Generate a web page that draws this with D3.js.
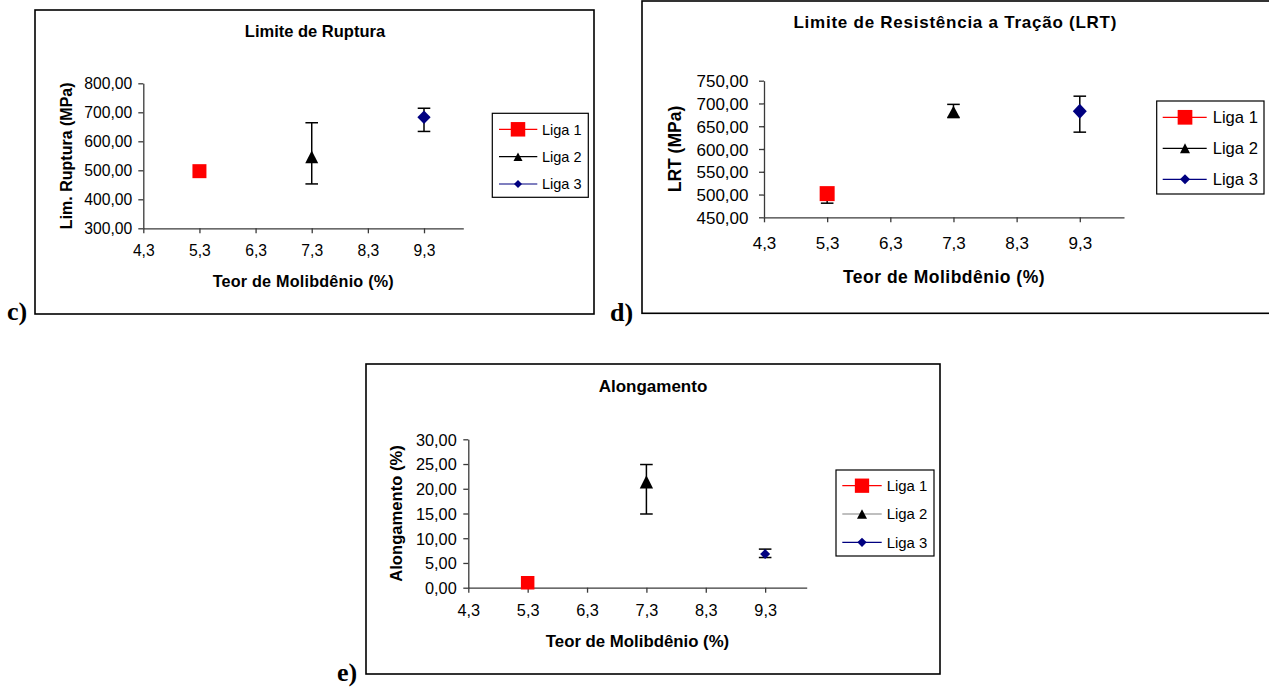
<!DOCTYPE html>
<html>
<head>
<meta charset="utf-8">
<script src="https://cdn.jsdelivr.net/npm/d3@7"></script>
<style>
  html, body { margin: 0; padding: 0; background: #fff; }
  svg { display: block; }
  text { font-family: "Liberation Sans", Arial, sans-serif; fill: #000; }
</style>
</head>
<body>
<svg id="fig" width="1269" height="688"></svg>
<script>
// ---------------- DATA ----------------
const ligaNames = ["Liga 1", "Liga 2", "Liga 3"];
const molibdenio = [5.3, 7.3, 9.3];            // Teor de Molibdênio (%)
const xTickValues = [4.3, 5.3, 6.3, 7.3, 8.3, 9.3];
const xDomain = [4.3, 10.0];

// c) Limite de Ruptura (MPa)
const rupturaValues = [497, 546, 683];
const rupturaLow    = [497, 453, 634];
const rupturaHigh   = [497, 664, 714];
const rupturaTicks  = [300, 400, 500, 600, 700, 800];

// d) Limite de Resistência a Tração (MPa)
const lrtValues = [502, 682, 683];
const lrtLow    = [481, 669, 637];
const lrtHigh   = [502, 698, 716];
const lrtTicks  = [450, 500, 550, 600, 650, 700, 750];

// e) Alongamento (%)
const alongValues = [1.0, 21.4, 6.8];
const alongLow    = [1.0, 14.9, 6.1];
const alongHigh   = [1.0, 24.9, 7.8];
const alongTicks  = [0, 5, 10, 15, 20, 25, 30];

// ---------------- STYLE ----------------
const seriesColors = ["#FF0000", "#000000", "#000080"];
const seriesSymbols = ["square", "triangle", "diamond"];

const ptBR = d3.formatLocale({decimal: ",", thousands: ".", grouping: [3], currency: ["R$", ""]});
const fmtX = ptBR.format(".1f");
const fmtY = ptBR.format(".2f");

function markerPath(type, w, h) {
  const a = w / 2, b = h / 2;
  if (type === "square") return `M${-a},${-b}H${a}V${b}H${-a}Z`;
  if (type === "triangle") return `M0,${-b}L${a},${b}L${-a},${b}Z`;
  return `M0,${-b}L${a},0L0,${b}L${-a},0Z`;
}

const svg = d3.select("#fig");
svg.append("rect").attr("width", 1269).attr("height", 688).attr("fill", "#fff");

function drawChart(cfg) {
  const g = svg.append("g");
  // outer frame
  g.append("rect")
    .attr("x", cfg.frame[0]).attr("y", cfg.frame[1])
    .attr("width", cfg.frame[2] - cfg.frame[0]).attr("height", cfg.frame[3] - cfg.frame[1])
    .attr("fill", "#fff").attr("stroke", "#000").attr("stroke-width", 1.6);

  // panel label
  g.append("text").attr("x", cfg.label.x).attr("y", cfg.label.y)
    .style("font-family", "'Liberation Serif', 'Times New Roman', serif")
    .attr("font-weight", "bold").attr("font-size", cfg.label.size).text(cfg.label.text);

  const p = cfg.plot;
  const x = d3.scaleLinear().domain(xDomain).range([p.x0, p.x1]);
  const y = d3.scaleLinear().domain(cfg.yDomain).range([p.y1, p.y0]);

  // title
  g.append("text").attr("x", cfg.title.x).attr("y", cfg.title.y)
    .attr("text-anchor", "middle").attr("font-weight", "bold")
    .attr("font-size", cfg.title.size).style("letter-spacing", (cfg.title.ls || 0) + "px")
    .text(cfg.title.text);

  // x axis
  const xa = g.append("g").attr("transform", `translate(0,${p.y1})`)
    .call(d3.axisBottom(x).tickValues(xTickValues).tickSize(5).tickSizeOuter(0).tickFormat(fmtX));
  xa.selectAll("text").attr("dy", null).attr("y", cfg.xLabelDy).attr("font-size", cfg.tickSize)
    .style("font-family", "'Liberation Sans', Arial, sans-serif");
  // y axis
  const ya = g.append("g").attr("transform", `translate(${p.x0},0)`)
    .call(d3.axisLeft(y).tickValues(cfg.yTicks).tickSize(5).tickSizeOuter(0).tickFormat(fmtY));
  ya.selectAll("text").attr("x", -cfg.yLabelGap).attr("dy", "0.36em").attr("font-size", cfg.tickSize)
    .style("font-family", "'Liberation Sans', Arial, sans-serif");
  g.selectAll(".domain, .tick line").attr("stroke", "#3a3a3a").attr("stroke-width", 1.3);

  // axis titles
  g.append("text").attr("x", (p.x0 + p.x1) / 2).attr("y", cfg.xTitle.y)
    .attr("text-anchor", "middle").attr("font-weight", "bold").attr("font-size", cfg.xTitle.size)
    .style("letter-spacing", (cfg.xTitle.ls || 0) + "px").text("Teor de Molibdênio (%)");
  g.append("text").attr("transform", `translate(${cfg.yTitle.x},${(p.y0 + p.y1) / 2}) rotate(-90)`)
    .attr("text-anchor", "middle").attr("font-weight", "bold").attr("font-size", cfg.yTitle.size)
    .text(cfg.yTitle.text);

  // error bars (behind markers)
  const cap = 6.3;
  const eb = g.append("g").attr("stroke", "#000").attr("stroke-width", 1.5);
  molibdenio.forEach((mx, i) => {
    const lo = cfg.low[i], hi = cfg.high[i], v = cfg.values[i];
    if (hi <= lo) return;
    const cx = x(mx);
    eb.append("line").attr("x1", cx).attr("x2", cx).attr("y1", y(lo)).attr("y2", y(hi));
    if (lo < v) eb.append("line").attr("x1", cx - cap).attr("x2", cx + cap).attr("y1", y(lo)).attr("y2", y(lo));
    if (hi > v) eb.append("line").attr("x1", cx - cap).attr("x2", cx + cap).attr("y1", y(hi)).attr("y2", y(hi));
  });

  // markers
  g.append("g").selectAll("path").data(cfg.values).join("path")
    .attr("transform", (d, i) => `translate(${x(molibdenio[i])},${y(d)})`)
    .attr("d", (d, i) => markerPath(seriesSymbols[i], cfg.markers[i][0], cfg.markers[i][1]))
    .attr("fill", (d, i) => seriesColors[i]);

  // legend
  const L = cfg.legend;
  const lg = g.append("g");
  lg.append("rect").attr("x", L.box[0]).attr("y", L.box[1])
    .attr("width", L.box[2] - L.box[0]).attr("height", L.box[3] - L.box[1])
    .attr("fill", "#fff").attr("stroke", "#000").attr("stroke-width", 1.2);
  ligaNames.forEach((name, i) => {
    const ry = L.rows[i];
    lg.append("line").attr("x1", L.line[0]).attr("x2", L.line[1]).attr("y1", ry).attr("y2", ry)
      .attr("stroke", (L.lineColors || seriesColors)[i]).attr("stroke-width", 1.2);
    lg.append("path").attr("transform", `translate(${L.mx},${ry})`)
      .attr("d", markerPath(seriesSymbols[i], L.markers[i][0], L.markers[i][1]))
      .attr("fill", seriesColors[i]);
    lg.append("text").attr("x", L.tx).attr("y", ry).attr("dy", "0.36em")
      .attr("font-size", L.size).text(name);
  });
}

// c) Limite de Ruptura
drawChart({
  frame: [35, 10, 594, 314],
  label: {text: "c)", x: 7, y: 320, size: 26},
  plot: {x0: 143.3, x1: 463.3, y0: 83.3, y1: 228.3},
  yDomain: [300, 800], yTicks: rupturaTicks,
  values: rupturaValues, low: rupturaLow, high: rupturaHigh,
  title: {text: "Limite de Ruptura", x: 315, y: 36.7, size: 16.5},
  tickSize: 15.7, xLabelDy: 28, yLabelGap: 11,
  xTitle: {y: 287.3, size: 16.2, ls: 0.2},
  yTitle: {text: "Lim. Ruptura (MPa)", x: 71.5, size: 16},
  markers: [[14, 14], [13, 12.7], [13.3, 13.3]],
  legend: {box: [492.3, 113.3, 588.3, 197.3], rows: [129.3, 156.7, 184], line: [499, 537.3],
           mx: 518, tx: 542, size: 14.5, markers: [[14.5, 14.5], [9, 8.5], [8, 8]]}
});

// d) LRT
drawChart({
  frame: [642, 1, 1290, 313.3],
  label: {text: "d)", x: 610, y: 321, size: 26},
  plot: {x0: 764, x1: 1124, y0: 80.7, y1: 217.3},
  yDomain: [450, 750], yTicks: lrtTicks,
  values: lrtValues, low: lrtLow, high: lrtHigh,
  title: {text: "Limite de Resistência a Tração (LRT)", x: 955.3, y: 28.3, size: 17, ls: 0.75},
  tickSize: 17, xLabelDy: 32, yLabelGap: 15.5,
  xTitle: {y: 283.3, size: 17.5, ls: 0.5},
  yTitle: {text: "LRT (MPa)", x: 681, size: 17.5},
  markers: [[15, 15], [12.7, 11.7], [14, 15]],
  legend: {box: [1156.7, 101, 1264, 194], rows: [117.3, 148.3, 179.3], line: [1162.7, 1206.7],
           mx: 1185, tx: 1212.7, size: 16.6, markers: [[14.7, 14.7], [10, 10], [10, 10]]}
});

// e) Alongamento
drawChart({
  frame: [366, 364, 940, 674],
  label: {text: "e)", x: 337, y: 680.5, size: 26},
  plot: {x0: 468.3, x1: 806.7, y0: 439.3, y1: 587.7},
  yDomain: [0, 30], yTicks: alongTicks,
  values: alongValues, low: alongLow, high: alongHigh,
  title: {text: "Alongamento", x: 653, y: 392.3, size: 17},
  tickSize: 16.3, xLabelDy: 28.8, yLabelGap: 11.6,
  xTitle: {y: 647.3, size: 16.8},
  yTitle: {text: "Alongamento (%)", x: 401.7, size: 16.6},
  markers: [[13.5, 13.5], [13.3, 13.3], [10, 10]],
  legend: {box: [836, 470, 934, 556], rows: [485.7, 514, 542.3], line: [842.3, 881.7],
           mx: 862, tx: 886.7, size: 14.9, markers: [[14.3, 14.3], [10, 9.5], [9.3, 9.3]],
           lineColors: ["#FF0000", "#808080", "#000080"]}
});
</script>
</body>
</html>
